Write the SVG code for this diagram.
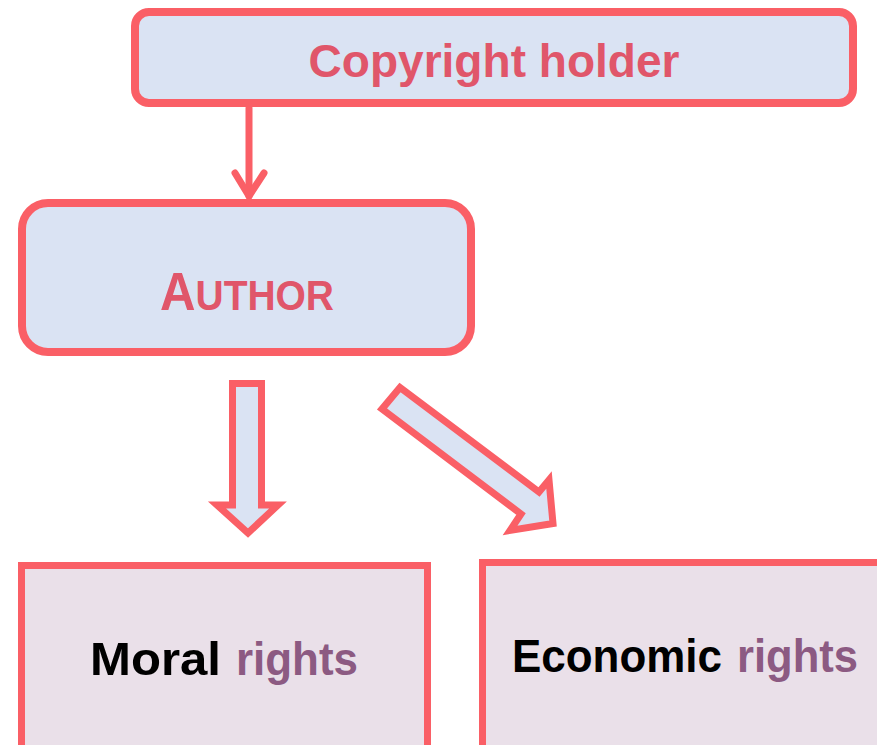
<svg xmlns="http://www.w3.org/2000/svg" width="877" height="745" viewBox="0 0 877 745">
<style>
.blue{fill:#DAE3F3;stroke:#FA5F66;stroke-width:8}
.mauve{fill:#EAE0E9;stroke:#FA5F66;stroke-width:7}
.blk{fill:#DAE3F3;stroke:#FA5F66;stroke-width:7;stroke-linejoin:miter}
.t{font-family:"Liberation Sans",Arial,sans-serif;font-weight:bold}
.red{fill:#E0566A}
.dark{fill:#000}
.pur{fill:#8C5A82}
.conn{fill:none;stroke:#FA5F66;stroke-width:7;stroke-linecap:round;stroke-linejoin:round}
</style>
<rect width="877" height="745" fill="#fff"/>
<g id="connectors">
<line class="conn" x1="249" y1="108" x2="249" y2="196"/>
<polyline class="conn" points="235,173 249,196 264,173"/>
<polygon class="blk" points="232.5,383.5 261.5,383.5 261.5,505 278,505 248,533 217,505 232.5,505"/>
<polygon class="blk" points="400,387.5 382,409 521,514 510,530.5 553,523.5 549,480 539,492"/>
</g>
<g id="copyright-holder">
<rect class="blue" x="135" y="12" width="718" height="91" rx="14"/>
<text class="t red" x="494" y="77" font-size="47" text-anchor="middle" textLength="371" lengthAdjust="spacingAndGlyphs">Copyright holder</text>
</g>
<g id="author">
<rect class="blue" x="22" y="203" width="449" height="149" rx="26"/>
<text class="t red" x="160" y="310" textLength="174" lengthAdjust="spacingAndGlyphs"><tspan font-size="53">A</tspan><tspan font-size="42">UTHOR</tspan></text>
</g>
<g id="moral-rights">
<rect class="mauve" x="21.5" y="565.5" width="406" height="190"/>
<text class="t dark" x="90" y="675" font-size="47" textLength="131" lengthAdjust="spacingAndGlyphs">Moral</text>
<text class="t pur" x="236" y="675" font-size="47" textLength="122" lengthAdjust="spacingAndGlyphs">rights</text>
</g>
<g id="economic-rights">
<rect class="mauve" x="482.5" y="562.5" width="410" height="193"/>
<text class="t dark" x="512" y="672" font-size="47" textLength="210" lengthAdjust="spacingAndGlyphs">Economic</text>
<text class="t pur" x="737" y="672" font-size="47" textLength="121" lengthAdjust="spacingAndGlyphs">rights</text>
</g>
</svg>
